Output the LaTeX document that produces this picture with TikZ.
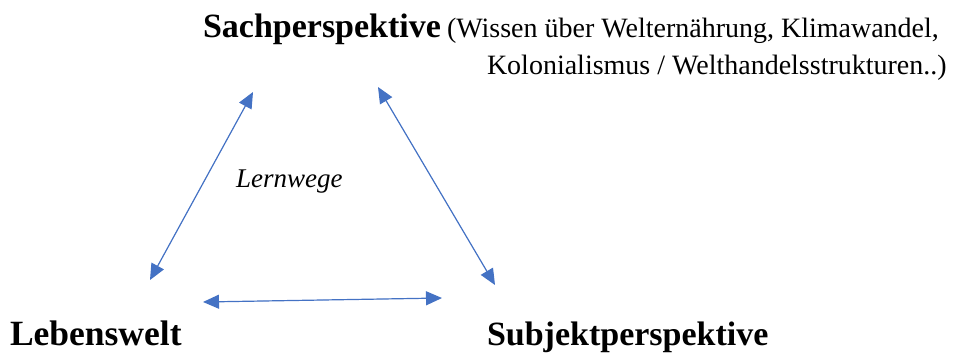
\documentclass[tikz,border=0pt]{standalone}
\usepackage{fontspec}
\setmainfont{Liberation Serif}
\usetikzlibrary{arrows.meta}
\definecolor{arrblue}{HTML}{4472C4}
\begin{document}
\begin{tikzpicture}[x=1pt,y=-1pt,
  lbl/.style={anchor=base west,inner sep=0pt,outer sep=0pt},
  big/.style={lbl,font=\fontsize{34}{40}\selectfont\bfseries},
  note/.style={lbl,font=\fontsize{28}{34}\selectfont},
  link/.style={draw=arrblue,line width=1.2pt,{Triangle[length=16pt,width=14pt]}-{Triangle[length=16pt,width=14pt]},fill=arrblue}]
\useasboundingbox (0,0) rectangle (958,354);
\node[big] (sach) at (203,37) {Sachperspektive};
\node[note] (n1) at (447,37) {(Wissen über Welternährung, Klimawandel,};
\node[note] (n2) at (487,74) {Kolonialismus / Welthandelsstrukturen..)};
\node[lbl,font=\fontsize{27}{30}\selectfont\itshape] (lern) at (236,187) {Lernwege};
\node[big,font=\fontsize{35.5}{40}\selectfont\bfseries] (leb) at (10,345) {Lebenswelt};
\node[big] (subj) at (487,345) {Subjektperspektive};
\coordinate (a1) at (253,92);
\coordinate (a2) at (150,280);
\coordinate (b1) at (378,87);
\coordinate (b2) at (495,285);
\coordinate (c1) at (203,302);
\coordinate (c2) at (442,298);
\draw[link] (a1) -- (a2);
\draw[link] (b1) -- (b2);
\draw[link] (c1) -- (c2);
\end{tikzpicture}
\end{document}
